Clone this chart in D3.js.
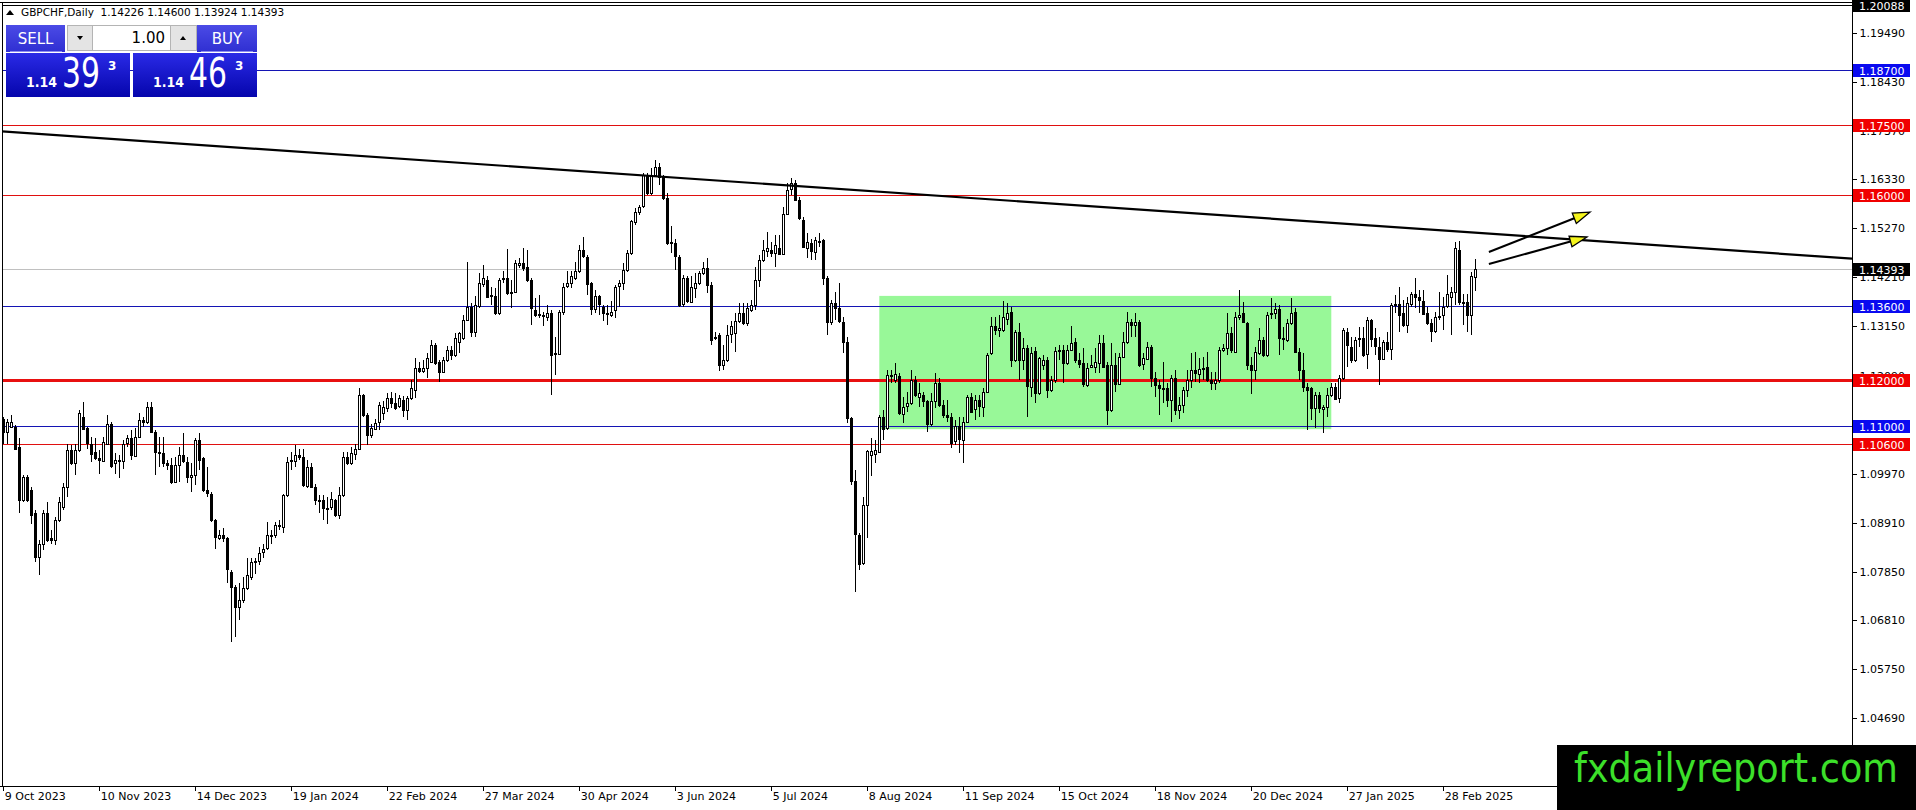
<!DOCTYPE html>
<html>
<head>
<meta charset="utf-8">
<script src="https://cdn.jsdelivr.net/npm/d3@7"></script>
<style>
    html, body { margin: 0; padding: 0; background: #fff; overflow: hidden; }
    svg { display: block; }
    text { font-family: 'DejaVu Sans', sans-serif; }
</style>
</head>
<body>
<svg id="chart" width="1916" height="810"></svg>
<script>
// GBPCHF daily bars, 9 Oct 2023 .. Mar 2025
const opens = [
1.1116,1.1087,1.1098,1.1098,1.1055,1.0940,1.0990,1.0961,1.0911,1.0817,
1.0843,1.0911,1.0857,1.0853,1.0897,1.0925,1.0969,1.1048,1.1019,1.1048,
1.1120,1.1095,1.1062,1.1044,1.1030,1.1026,1.1062,1.1105,1.1019,1.1026,
1.1026,1.1062,1.1073,1.1037,1.1077,1.1113,1.1109,1.1141,1.1087,1.1044,
1.1041,1.1019,1.1015,1.0979,1.1015,1.1037,1.1023,1.0990,1.0994,1.1069,
1.1030,1.0961,1.0954,1.0897,1.0857,1.0864,1.0857,1.0785,1.0753,1.0709,
1.0724,1.0749,1.0774,1.0807,1.0807,1.0828,1.0835,1.0864,1.0864,1.0886,
1.0882,1.0951,1.1026,1.1023,1.1037,1.1033,1.0972,1.1012,1.0969,1.0940,
1.0940,1.0922,1.0925,1.0940,1.0907,1.0951,1.1033,1.1019,1.1041,1.1051,
1.1167,1.1123,1.1080,1.1095,1.1109,1.1130,1.1138,1.1160,1.1149,1.1142,
1.1156,1.1135,1.1160,1.1178,1.1225,1.1218,1.1225,1.1239,1.1275,1.1239,
1.1218,1.1243,1.1264,1.1254,1.1280,1.1290,1.1329,1.1358,1.1304,1.1358,
1.1405,1.1416,1.1383,1.1380,1.1344,1.1416,1.1419,1.1390,1.1390,1.1448,
1.1452,1.1444,1.1416,1.1351,1.1340,1.1340,1.1336,1.1344,1.1257,1.1257,
1.1347,1.1401,1.1408,1.1419,1.1434,1.1480,1.1466,1.1408,1.1351,1.1380,
1.1358,1.1344,1.1340,1.1351,1.1401,1.1408,1.1437,1.1473,1.1542,1.1563,
1.1574,1.1642,1.1603,1.1642,1.1660,1.1639,1.1592,1.1495,1.1495,1.1466,
1.1362,1.1419,1.1369,1.1398,1.1408,1.1430,1.1441,1.1405,1.1293,1.1297,
1.1232,1.1243,1.1297,1.1300,1.1326,1.1344,1.1322,1.1351,1.1360,1.1415,
1.1459,1.1477,1.1480,1.1473,1.1485,1.1473,1.1559,1.1610,1.1624,1.1588,
1.1545,1.1484,1.1495,1.1477,1.1498,1.1502,1.1419,1.1325,1.1365,1.1354,
1.1325,1.1282,1.1117,1.0980,1.0865,1.0803,1.0929,1.1037,1.1040,1.1045,
1.1120,1.1095,1.1210,1.1200,1.1207,1.1127,1.1142,1.1149,1.1199,1.1163,
1.1167,1.1153,1.1104,1.1153,1.1192,1.1145,1.1124,1.1120,1.1066,1.1099,
1.1070,1.1109,1.1163,1.1136,1.1156,1.1142,1.1174,1.1257,1.1315,1.1307,
1.1307,1.1330,1.1347,1.1243,1.1304,1.1243,1.1268,1.1185,1.1261,1.1171,
1.1232,1.1243,1.1178,1.1199,1.1261,1.1264,1.1235,1.1264,1.1282,1.1243,
1.1235,1.1189,1.1228,1.1228,1.1235,1.1279,1.1232,1.1135,1.1232,1.1192,
1.1250,1.1282,1.1325,1.1318,1.1325,1.1232,1.1246,1.1271,1.1203,1.1188,
1.1181,1.1183,1.1156,1.1203,1.1134,1.1145,1.1178,1.1199,1.1221,1.1214,
1.1224,1.1228,1.1199,1.1192,1.1199,1.1264,1.1268,1.1300,1.1260,1.1336,
1.1343,1.1323,1.1232,1.1221,1.1257,1.1286,1.1253,1.1340,1.1343,1.1352,
1.1289,1.1286,1.1322,1.1347,1.1260,1.1221,1.1185,1.1181,1.1138,1.1167,
1.1138,1.1142,1.1167,1.1185,1.1160,1.1203,1.1304,1.1271,1.1242,1.1286,
1.1291,1.1255,1.1329,1.1289,1.1271,1.1246,1.1282,1.1266,1.1361,1.1363,
1.1343,1.1318,1.1365,1.1386,1.1379,1.1371,1.1343,1.1322,1.1304,1.1335,
1.1338,1.1358,1.1380,1.1390,1.1481,1.1368,1.1368,1.1340,1.14226
];
const highs = [
1.1120,1.1116,1.1123,1.1102,1.1073,1.0994,1.0994,1.0969,1.0918,1.0853,
1.0918,1.0936,1.0875,1.0904,1.0947,1.0976,1.1062,1.1059,1.1062,1.1134,
1.1152,1.1098,1.1077,1.1073,1.1048,1.1077,1.1123,1.1109,1.1041,1.1037,
1.1069,1.1080,1.1091,1.1095,1.1127,1.1120,1.1152,1.1152,1.1091,1.1077,
1.1077,1.1026,1.1030,1.1033,1.1055,1.1084,1.1033,1.1019,1.1073,1.1084,
1.1033,1.1012,1.0958,1.0900,1.0875,1.0879,1.0861,1.0789,1.0756,1.0760,
1.0774,1.0814,1.0814,1.0814,1.0839,1.0846,1.0893,1.0875,1.0893,1.0897,
1.0954,1.1033,1.1044,1.1059,1.1051,1.1051,1.1026,1.1019,1.0975,1.0951,
1.0951,1.0947,1.0958,1.0943,1.0969,1.1044,1.1044,1.1055,1.1062,1.1181,
1.1170,1.1127,1.1105,1.1116,1.1152,1.1153,1.1171,1.1174,1.1171,1.1167,
1.1164,1.1164,1.1200,1.1246,1.1239,1.1243,1.1257,1.1286,1.1279,1.1243,
1.1250,1.1272,1.1272,1.1300,1.1304,1.1340,1.1455,1.1365,1.1380,1.1430,
1.1448,1.1423,1.1401,1.1398,1.1419,1.1434,1.1482,1.1416,1.1459,1.1462,
1.1484,1.1480,1.1419,1.1376,1.1383,1.1347,1.1362,1.1351,1.1293,1.1351,
1.1408,1.1434,1.1434,1.1455,1.1491,1.1509,1.1470,1.1412,1.1394,1.1383,
1.1362,1.1362,1.1369,1.1405,1.1416,1.1452,1.1480,1.1545,1.1570,1.1577,
1.1646,1.1646,1.1657,1.1675,1.1668,1.1642,1.1603,1.1531,1.1505,1.1470,
1.1426,1.1423,1.1423,1.1430,1.1434,1.1455,1.1462,1.1412,1.1304,1.1300,
1.1275,1.1318,1.1326,1.1344,1.1365,1.1365,1.1365,1.1372,1.1444,1.1469,
1.1502,1.1520,1.1498,1.1513,1.1513,1.1574,1.1624,1.1635,1.1631,1.1595,
1.1552,1.1516,1.1505,1.1509,1.1516,1.1505,1.1423,1.1372,1.1390,1.1408,
1.1336,1.1293,1.1120,1.1005,1.0868,1.0947,1.1048,1.1073,1.1070,1.1124,
1.1135,1.1221,1.1221,1.1235,1.1214,1.1163,1.1174,1.1221,1.1207,1.1192,
1.1174,1.1156,1.1171,1.1214,1.1203,1.1156,1.1156,1.1127,1.1113,1.1120,
1.1120,1.1167,1.1171,1.1167,1.1167,1.1181,1.1257,1.1336,1.1336,1.1340,
1.1369,1.1365,1.1358,1.1307,1.1322,1.1289,1.1275,1.1271,1.1271,1.1250,
1.1253,1.1250,1.1207,1.1271,1.1275,1.1275,1.1275,1.1315,1.1289,1.1257,
1.1268,1.1235,1.1253,1.1268,1.1297,1.1297,1.1239,1.1279,1.1257,1.1257,
1.1304,1.1347,1.1332,1.1343,1.1329,1.1257,1.1282,1.1275,1.1217,1.1199,
1.1239,1.1192,1.1210,1.1221,1.1163,1.1185,1.1221,1.1257,1.1260,1.1246,
1.1250,1.1260,1.1217,1.1217,1.1271,1.1278,1.1343,1.1314,1.1347,1.1394,
1.1368,1.1325,1.1250,1.1271,1.1311,1.1293,1.1347,1.1376,1.1365,1.1361,
1.1314,1.1332,1.1376,1.1354,1.1268,1.1257,1.1192,1.1185,1.1174,1.1174,
1.1145,1.1181,1.1192,1.1192,1.1210,1.1311,1.1311,1.1293,1.1293,1.1314,
1.1314,1.1336,1.1332,1.1311,1.1293,1.1286,1.1304,1.1365,1.1383,1.1401,
1.1372,1.1379,1.1390,1.1419,1.1394,1.1394,1.1358,1.1332,1.1347,1.1390,
1.1379,1.1426,1.1401,1.1498,1.1500,1.1386,1.1386,1.1433,1.14600
];
const lows = [
1.1062,1.1062,1.1095,1.1048,1.0911,1.0936,1.0936,1.0889,1.0807,1.0778,
1.0832,1.0850,1.0846,1.0843,1.0893,1.0918,1.0947,1.1015,1.0994,1.1044,
1.1091,1.1051,1.1023,1.1026,1.0997,1.1023,1.1059,1.1010,1.0997,1.0987,
1.1008,1.1055,1.1026,1.1033,1.1073,1.1098,1.1105,1.1084,1.0994,1.1012,
1.1012,1.1005,1.0975,1.0976,1.0979,1.1019,1.0976,1.0958,1.0972,1.1005,
1.0958,1.0947,1.0893,1.0835,1.0853,1.0850,1.0760,1.0634,1.0645,1.0681,
1.0717,1.0745,1.0767,1.0781,1.0799,1.0814,1.0832,1.0846,1.0857,1.0875,
1.0868,1.0947,1.1005,1.1012,1.1026,1.0969,1.0965,1.0965,1.0929,1.0911,
1.0897,1.0889,1.0918,1.0903,1.0900,1.0947,1.1015,1.1015,1.1026,1.1048,
1.1120,1.1059,1.1073,1.1091,1.1091,1.1113,1.1131,1.1138,1.1135,1.1138,
1.1120,1.1113,1.1156,1.1160,1.1214,1.1214,1.1203,1.1236,1.1232,1.1196,
1.1214,1.1239,1.1243,1.1250,1.1257,1.1286,1.1326,1.1293,1.1293,1.1354,
1.1401,1.1376,1.1362,1.1340,1.1340,1.1408,1.1383,1.1354,1.1387,1.1441,
1.1434,1.1412,1.1318,1.1336,1.1333,1.1315,1.1326,1.1167,1.1210,1.1254,
1.1340,1.1398,1.1398,1.1416,1.1430,1.1462,1.1383,1.1340,1.1344,1.1340,
1.1326,1.1318,1.1336,1.1333,1.1358,1.1394,1.1433,1.1470,1.1534,1.1556,
1.1570,1.1599,1.1599,1.1639,1.1621,1.1588,1.1491,1.1473,1.1437,1.1358,
1.1358,1.1365,1.1365,1.1376,1.1405,1.1426,1.1387,1.1275,1.1286,1.1218,
1.1221,1.1239,1.1279,1.1260,1.1322,1.1318,1.1315,1.1347,1.1351,1.1401,
1.1455,1.1466,1.1466,1.1444,1.1469,1.1469,1.1556,1.1600,1.1585,1.1545,
1.1484,1.1462,1.1459,1.1459,1.1487,1.1405,1.1297,1.1318,1.1329,1.1322,
1.1257,1.1106,1.0973,1.0742,1.0789,1.0800,1.0857,1.0991,1.1019,1.1041,
1.1070,1.1091,1.1192,1.1192,1.1124,1.1106,1.1131,1.1145,1.1163,1.1142,
1.1142,1.1088,1.1099,1.1138,1.1142,1.1117,1.1109,1.1052,1.1059,1.1041,
1.1019,1.1106,1.1127,1.1113,1.1120,1.1120,1.1171,1.1253,1.1297,1.1293,
1.1304,1.1318,1.1228,1.1239,1.1199,1.1221,1.1120,1.1163,1.1149,1.1167,
1.1221,1.1160,1.1174,1.1192,1.1243,1.1192,1.1232,1.1261,1.1235,1.1225,
1.1185,1.1185,1.1225,1.1214,1.1214,1.1225,1.1102,1.1131,1.1174,1.1189,
1.1246,1.1278,1.1293,1.1293,1.1228,1.1221,1.1242,1.1185,1.1163,1.1124,
1.1149,1.1142,1.1109,1.1124,1.1116,1.1127,1.1163,1.1181,1.1196,1.1192,
1.1199,1.1196,1.1178,1.1178,1.1192,1.1260,1.1253,1.1257,1.1257,1.1329,
1.1322,1.1221,1.1170,1.1199,1.1253,1.1250,1.1250,1.1332,1.1332,1.1253,
1.1264,1.1282,1.1318,1.1257,1.1199,1.1174,1.1091,1.1113,1.1095,1.1127,
1.1084,1.1120,1.1163,1.1156,1.1149,1.1199,1.1228,1.1235,1.1238,1.1271,
1.1250,1.1224,1.1271,1.1253,1.1188,1.1242,1.1260,1.1242,1.1343,1.1304,
1.1314,1.1300,1.1358,1.1354,1.1343,1.1340,1.1318,1.1282,1.1300,1.1329,
1.1307,1.1354,1.1296,1.1361,1.1361,1.1318,1.1304,1.1296,1.13924
];
const closes = [
1.1087,1.1109,1.1109,1.1051,1.0940,1.0990,1.0940,1.0907,1.0817,1.0846,
1.0911,1.0853,1.0853,1.0897,1.0936,1.0969,1.1048,1.1019,1.1048,1.1127,
1.1095,1.1062,1.1041,1.1030,1.1026,1.1066,1.1105,1.1015,1.1026,1.1023,
1.1062,1.1073,1.1037,1.1077,1.1113,1.1109,1.1141,1.1087,1.1044,1.1041,
1.1019,1.1015,1.0979,1.1015,1.1037,1.1023,1.0990,1.0994,1.1069,1.1026,
1.0961,1.0954,1.0897,1.0861,1.0864,1.0857,1.0789,1.0753,1.0709,1.0724,
1.0749,1.0778,1.0807,1.0808,1.0825,1.0835,1.0864,1.0865,1.0886,1.0887,
1.0951,1.1023,1.1023,1.1037,1.1033,1.0972,1.1012,1.0969,1.0940,1.0939,
1.0922,1.0921,1.0943,1.0907,1.0951,1.1033,1.1019,1.1041,1.1051,1.1167,
1.1123,1.1080,1.1095,1.1107,1.1145,1.1142,1.1160,1.1149,1.1138,1.1160,
1.1135,1.1160,1.1182,1.1225,1.1218,1.1225,1.1246,1.1275,1.1236,1.1218,
1.1243,1.1264,1.1254,1.1290,1.1300,1.1329,1.1358,1.1304,1.1362,1.1408,
1.1419,1.1380,1.1380,1.1344,1.1416,1.1419,1.1387,1.1387,1.1452,1.1452,
1.1441,1.1416,1.1355,1.1340,1.1341,1.1339,1.1344,1.1254,1.1256,1.1347,
1.1401,1.1408,1.1423,1.1434,1.1480,1.1466,1.1408,1.1351,1.1380,1.1362,
1.1344,1.1343,1.1347,1.1401,1.1408,1.1437,1.1473,1.1542,1.1563,1.1574,
1.1642,1.1603,1.1642,1.1660,1.1639,1.1592,1.1495,1.1498,1.1466,1.1362,
1.1419,1.1369,1.1401,1.1408,1.1430,1.1441,1.1405,1.1286,1.1292,1.1232,
1.1243,1.1297,1.1315,1.1326,1.1344,1.1322,1.1354,1.1362,1.1415,1.1459,
1.1480,1.1484,1.1473,1.1491,1.1473,1.1559,1.1610,1.1624,1.1588,1.1549,
1.1487,1.1498,1.1477,1.1502,1.1500,1.1419,1.1325,1.1365,1.1354,1.1325,
1.1282,1.1117,1.0980,1.0865,1.0803,1.0929,1.1045,1.1045,1.1048,1.1120,
1.1095,1.1210,1.1207,1.1212,1.1127,1.1142,1.1149,1.1199,1.1167,1.1171,
1.1153,1.1104,1.1153,1.1192,1.1145,1.1124,1.1120,1.1063,1.1099,1.1070,
1.1109,1.1163,1.1131,1.1156,1.1142,1.1174,1.1253,1.1316,1.1307,1.1311,
1.1336,1.1343,1.1243,1.1304,1.1243,1.1268,1.1185,1.1258,1.1171,1.1246,
1.1243,1.1178,1.1199,1.1261,1.1264,1.1235,1.1264,1.1279,1.1243,1.1235,
1.1189,1.1225,1.1232,1.1239,1.1279,1.1228,1.1135,1.1232,1.1192,1.1250,
1.1282,1.1325,1.1318,1.1325,1.1232,1.1246,1.1271,1.1203,1.1188,1.1181,
1.1182,1.1156,1.1203,1.1134,1.1145,1.1178,1.1199,1.1221,1.1214,1.1224,
1.1225,1.1199,1.1192,1.1199,1.1264,1.1268,1.1300,1.1264,1.1336,1.1340,
1.1323,1.1232,1.1221,1.1260,1.1286,1.1253,1.1340,1.1343,1.1352,1.1289,
1.1286,1.1322,1.1343,1.1260,1.1221,1.1185,1.1178,1.1138,1.1167,1.1138,
1.1142,1.1167,1.1185,1.1160,1.1203,1.1307,1.1275,1.1242,1.1286,1.1289,
1.1255,1.1329,1.1289,1.1271,1.1246,1.1282,1.1266,1.1361,1.1363,1.1340,
1.1318,1.1365,1.1386,1.1379,1.1372,1.1343,1.1322,1.1304,1.1335,1.1338,
1.1356,1.1385,1.1390,1.1484,1.1368,1.1365,1.1340,1.1424,1.14393
];

// bottom axis labels (one every 24 bars)
const dateTicks = [0, 24, 48, 72, 96, 120, 144, 168, 192, 216, 240, 264, 288, 312, 336, 360];
const dateLabels = ['9 Oct 2023', '10 Nov 2023', '14 Dec 2023', '19 Jan 2024', '22 Feb 2024', '27 Mar 2024',
    '30 Apr 2024', '3 Jun 2024', '5 Jul 2024', '8 Aug 2024', '11 Sep 2024', '15 Oct 2024',
    '18 Nov 2024', '20 Dec 2024', '27 Jan 2025', '28 Feb 2025'];

// right axis tick labels
const priceTicks = [1.19490, 1.18430, 1.17370, 1.16330, 1.15270, 1.14210, 1.13150, 1.12090,
    1.11030, 1.09970, 1.08910, 1.07850, 1.06810, 1.05750, 1.04690];

// horizontal levels drawn on the chart
const blueLevels = [1.18700, 1.13600, 1.11000];
const redLevels = [1.17500, 1.16000, 1.10600];
const keyLevel = 1.12000;
const chartHigh = 1.20088;

// range box, trend line and arrows (bar index / price)
const rangeBars = [219, 332];
const rangePrices = [1.1381, 1.1093];
const trendBars = [-1, 463];
const trendPrices = [1.1737, 1.1461];
const arrowBars = [[371.4, 396.7], [371.4, 395.9]];
const arrowPrices = [[1.14758, 1.15622], [1.14499, 1.15082]];

const W = 1916, H = 810;
const plotRight = 1852, plotBottom = 786;

const svg = d3.select('#chart');
const x = d3.scaleLinear().domain([0, 463]).range([3.3, 1855.3]);
const y = d3.scaleLinear().domain([1.1949, 1.0469]).range([33, 718]);
const fmt5 = d3.format('.5f');

svg.append('rect').attr('width', W).attr('height', H).attr('fill', '#fff');

const defs = svg.append('defs');
defs.append('clipPath').attr('id', 'plot')
    .append('rect').attr('x', 2).attr('y', 2).attr('width', plotRight - 2).attr('height', plotBottom - 2);

function vGrad(id, top, bottom) {
    const g = defs.append('linearGradient').attr('id', id)
        .attr('x1', 0).attr('y1', 0).attr('x2', 0).attr('y2', 1);
    g.append('stop').attr('offset', '0%').attr('stop-color', top);
    g.append('stop').attr('offset', '100%').attr('stop-color', bottom);
}
vGrad('btnGrad', '#4b4be6', '#2f2fd2');
vGrad('priceGrad', '#2a2ae6', '#0505ac');

const plot = svg.append('g').attr('clip-path', 'url(#plot)');

// range box
plot.append('rect')
    .attr('x', x(rangeBars[0])).attr('y', y(rangePrices[0]))
    .attr('width', x(rangeBars[1]) - x(rangeBars[0]))
    .attr('height', y(rangePrices[1]) - y(rangePrices[0]))
    .attr('fill', '#98f898');

// horizontal lines
function hline(p, color, width) {
    const yy = Math.round(y(p)) + (width % 2 ? 0.5 : 0);
    plot.append('line').attr('x1', 0).attr('x2', plotRight).attr('y1', yy).attr('y2', yy)
        .attr('stroke', color).attr('stroke-width', width).attr('shape-rendering', 'crispEdges');
}
hline(closes[closes.length - 1], '#c0c0c0', 1);
blueLevels.forEach(p => hline(p, '#1414b4', 1));
redLevels.forEach(p => hline(p, '#e01010', 1));
hline(keyLevel, '#e81010', 3);
hline(chartHigh, '#000', 1);

// candles
const bars = d3.range(closes.length);
const candle = plot.append('g').attr('shape-rendering', 'crispEdges');
candle.selectAll('line.wick').data(bars).join('line')
    .attr('class', 'wick')
    .attr('x1', i => Math.round(x(i)) + 0.5).attr('x2', i => Math.round(x(i)) + 0.5)
    .attr('y1', i => y(highs[i])).attr('y2', i => y(lows[i]))
    .attr('stroke', '#000').attr('stroke-width', 1);
candle.selectAll('rect.body').data(bars).join('rect')
    .attr('class', 'body')
    .attr('x', i => Math.round(x(i)) - 0.5)
    .attr('width', 2)
    .attr('y', i => Math.round(y(Math.max(opens[i], closes[i]))) + 0.5)
    .attr('height', i => Math.max(1, Math.round(Math.abs(y(opens[i]) - y(closes[i])))))
    .attr('fill', i => closes[i] >= opens[i] ? '#fff' : '#000')
    .attr('stroke', '#000').attr('stroke-width', 1);

// trend line
plot.append('line')
    .attr('x1', x(trendBars[0])).attr('y1', y(trendPrices[0]))
    .attr('x2', x(trendBars[1])).attr('y2', y(trendPrices[1]))
    .attr('stroke', '#000').attr('stroke-width', 2.2);

// arrows
arrowBars.forEach((b, k) => {
    const x0 = x(b[0]), y0 = y(arrowPrices[k][0]);
    const x1 = x(b[1]), y1 = y(arrowPrices[k][1]);
    const ang = Math.atan2(y1 - y0, x1 - x0);
    const len = 17, half = 5.5;
    const bx = x1 - len * Math.cos(ang), by = y1 - len * Math.sin(ang);
    plot.append('line').attr('x1', x0).attr('y1', y0).attr('x2', bx).attr('y2', by)
        .attr('stroke', '#000').attr('stroke-width', 2);
    const pts = [
        [x1, y1],
        [bx + half * Math.sin(ang), by - half * Math.cos(ang)],
        [bx - half * Math.sin(ang), by + half * Math.cos(ang)]
    ];
    plot.append('polygon').attr('points', pts.map(p => p.join(',')).join(' '))
        .attr('fill', '#f4f41c').attr('stroke', '#000').attr('stroke-width', 1.3);
});

// frame
svg.append('line').attr('x1', 0).attr('x2', plotRight).attr('y1', 2.5).attr('y2', 2.5)
    .attr('stroke', '#000').attr('shape-rendering', 'crispEdges');
svg.append('line').attr('x1', 2.5).attr('x2', 2.5).attr('y1', 2).attr('y2', plotBottom)
    .attr('stroke', '#000').attr('shape-rendering', 'crispEdges');

// price axis
const yAxis = svg.append('g')
    .attr('transform', `translate(${plotRight + 0.5},0)`)
    .call(d3.axisRight(y).tickValues(priceTicks).tickFormat(fmt5).tickSize(4).tickPadding(3));
yAxis.select('.domain').remove();
yAxis.selectAll('text').attr('font-family', "'DejaVu Sans', sans-serif").attr('font-size', 11).attr('fill', '#000');
yAxis.selectAll('line').attr('stroke', '#000').attr('shape-rendering', 'crispEdges');
svg.append('line').attr('x1', plotRight + 0.5).attr('x2', plotRight + 0.5).attr('y1', 0).attr('y2', plotBottom)
    .attr('stroke', '#000').attr('shape-rendering', 'crispEdges');

// date axis
const xAxis = svg.append('g')
    .attr('transform', `translate(0,${plotBottom + 0.5})`)
    .call(d3.axisBottom(x).tickValues(dateTicks).tickFormat((d, i) => dateLabels[i]).tickSize(4).tickPadding(2));
xAxis.select('.domain').remove();
xAxis.selectAll('text').attr('font-family', "'DejaVu Sans', sans-serif").attr('font-size', 11)
    .attr('fill', '#000').attr('text-anchor', 'start').attr('dx', 1);
xAxis.selectAll('line').attr('stroke', '#000').attr('shape-rendering', 'crispEdges');
svg.append('line').attr('x1', 0).attr('x2', plotRight).attr('y1', plotBottom + 0.5).attr('y2', plotBottom + 0.5)
    .attr('stroke', '#000').attr('shape-rendering', 'crispEdges');

// price labels on the right scale
function tag(p, bg) {
    const yy = Math.round(y(p));
    const g = svg.append('g');
    g.append('rect').attr('x', plotRight + 1).attr('y', yy - 6).attr('width', 57).attr('height', 13).attr('fill', bg);
    g.append('text').attr('x', plotRight + 7).attr('y', yy + 4.5)
        .attr('font-size', 11).attr('fill', '#fff').text(fmt5(p));
}
blueLevels.forEach(p => tag(p, '#0a0af0'));
redLevels.forEach(p => tag(p, '#f00000'));
tag(keyLevel, '#f00000');
tag(closes[closes.length - 1], '#000');
tag(chartHigh, '#000');

// header
const last = closes.length - 1;
svg.append('path').attr('d', 'M6,15 L10,10 L14,15 Z').attr('fill', '#000');
svg.append('text').attr('x', 21).attr('y', 16).attr('font-size', 10.5).attr('fill', '#000')
    .style('white-space', 'pre')
    .text(`GBPCHF,Daily  ${fmt5(opens[last])} ${fmt5(highs[last])} ${fmt5(lows[last])} ${fmt5(closes[last])}`);

// one-click trading panel
const panel = svg.append('g');
panel.append('rect').attr('x', 6).attr('y', 25).attr('width', 59).attr('height', 27).attr('fill', 'url(#btnGrad)');
panel.append('rect').attr('x', 197).attr('y', 25).attr('width', 60).attr('height', 27).attr('fill', 'url(#btnGrad)');
panel.append('line').attr('x1', 10).attr('x2', 62).attr('y1', 51.5).attr('y2', 51.5).attr('stroke', '#8c8cf0');
panel.append('line').attr('x1', 201).attr('x2', 253).attr('y1', 51.5).attr('y2', 51.5).attr('stroke', '#8c8cf0');
panel.append('text').attr('x', 35.5).attr('y', 44).attr('text-anchor', 'middle')
    .attr('font-family', 'Roboto, sans-serif').attr('font-size', 15).attr('fill', '#fff').text('SELL');
panel.append('text').attr('x', 227).attr('y', 44).attr('text-anchor', 'middle')
    .attr('font-family', 'Roboto, sans-serif').attr('font-size', 15).attr('fill', '#fff').text('BUY');

panel.append('rect').attr('x', 67.5).attr('y', 25.5).attr('width', 129).attr('height', 25)
    .attr('fill', '#fff').attr('stroke', '#b4b4b4');
panel.append('rect').attr('x', 67.5).attr('y', 25.5).attr('width', 25).attr('height', 25)
    .attr('fill', '#e4e4e4').attr('stroke', '#b4b4b4');
panel.append('rect').attr('x', 170.5).attr('y', 25.5).attr('width', 26).attr('height', 25)
    .attr('fill', '#e4e4e4').attr('stroke', '#b4b4b4');
panel.append('path').attr('d', 'M77,36 L83,36 L80,40 Z').attr('fill', '#000');
panel.append('path').attr('d', 'M180,40 L186,40 L183,36 Z').attr('fill', '#000');
panel.append('text').attr('x', 165).attr('y', 43).attr('text-anchor', 'end')
    .attr('font-family', 'Roboto, sans-serif').attr('font-size', 15).attr('fill', '#000').text('1.00');

const quotes = [
    { x: 6, big: '39', small: '1.14', pip: '3' },
    { x: 133, big: '46', small: '1.14', pip: '3' }
];
quotes.forEach(q => {
    panel.append('rect').attr('x', q.x).attr('y', 53).attr('width', 124).attr('height', 44).attr('fill', 'url(#priceGrad)');
    panel.append('text').attr('x', q.x + 20).attr('y', 87)
        .attr('font-family', 'Roboto, sans-serif').attr('font-weight', 'bold').attr('font-size', 14)
        .attr('textLength', 31).attr('lengthAdjust', 'spacingAndGlyphs').attr('fill', '#fff').text(q.small);
    panel.append('text').attr('x', q.x + 56).attr('y', 87)
        .attr('font-family', 'Roboto, sans-serif').attr('font-size', 40)
        .attr('textLength', 38).attr('lengthAdjust', 'spacingAndGlyphs').attr('fill', '#fff').text(q.big);
    panel.append('text').attr('x', q.x + 102).attr('y', 70)
        .attr('font-family', 'Roboto, sans-serif').attr('font-weight', 'bold').attr('font-size', 12)
        .attr('fill', '#fff').text(q.pip);
});

// watermark
svg.append('rect').attr('x', 1557).attr('y', 745).attr('width', W - 1557).attr('height', H - 745).attr('fill', '#000');
svg.append('text').attr('x', 1574).attr('y', 782)
    .attr('font-family', "'Liberation Sans', Arial, sans-serif").attr('font-size', 41)
    .attr('textLength', 324).attr('lengthAdjust', 'spacingAndGlyphs')
    .attr('fill', '#3ce02a').text('fxdailyreport.com');
</script>
</body>
</html>
